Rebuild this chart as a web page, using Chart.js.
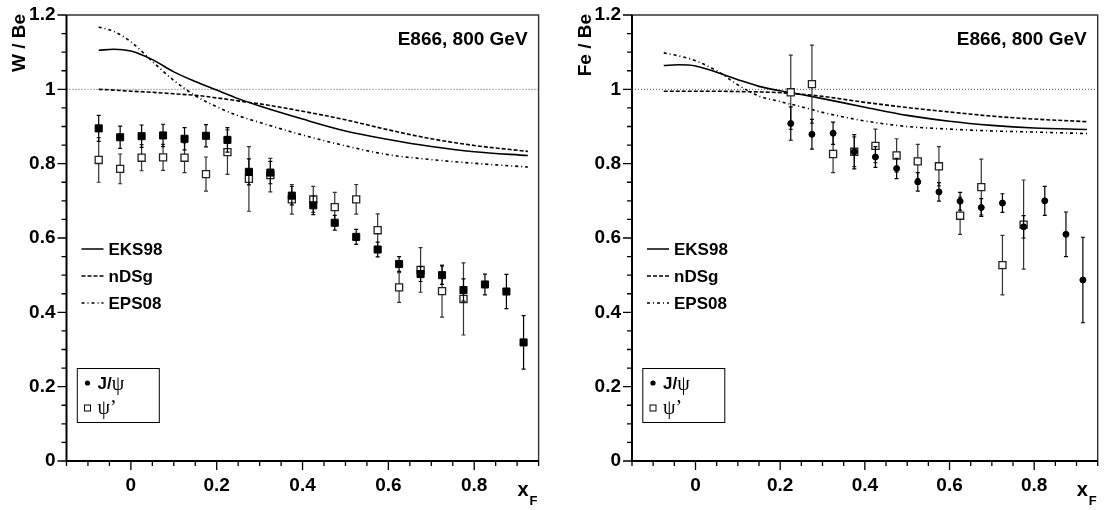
<!DOCTYPE html>
<html>
<head>
<meta charset="utf-8">
<script src="https://cdn.jsdelivr.net/npm/chart.js@4.4.1/dist/chart.umd.min.js"></script>
<style>
  html, body { margin: 0; padding: 0; background: #fff; }
  #wrap { position: relative; width: 1104px; height: 510px; }
  .panel { position: absolute; top: 0; width: 552px; height: 510px; }
</style>
</head>
<body>
<div id="wrap">
  <div class="panel" style="left:0"><canvas id="cW"></canvas></div>
  <div class="panel" style="left:552px"><canvas id="cFe"></canvas></div>
</div>
<script>
// xF bin centres
const xBins = [-0.075, -0.025, 0.025, 0.075, 0.125, 0.175, 0.225, 0.275, 0.325, 0.375, 0.425,
               0.475, 0.525, 0.575, 0.625, 0.675, 0.725, 0.775, 0.825, 0.875, 0.915];

// W / Be
const wJpsi    = [0.895, 0.871, 0.874, 0.876, 0.867, 0.875, 0.864, 0.778, 0.776, 0.714, 0.688,
                  0.641, 0.603, 0.569, 0.530, 0.503, 0.500, 0.460, 0.475, 0.456, 0.319];
const wJpsiErr = [0.035, 0.030, 0.030, 0.030, 0.030, 0.030, 0.033, 0.035, 0.030, 0.025, 0.025,
                  0.020, 0.020, 0.020, 0.020, 0.020, 0.025, 0.030, 0.028, 0.046, 0.072];
const wPsip    = [0.810, 0.786, 0.816, 0.817, 0.816, 0.772, 0.831, 0.759, 0.769, 0.704, 0.704,
                  0.683, 0.704, 0.621, 0.467, 0.514, 0.457, 0.436];
const wPsipErr = [0.060, 0.040, 0.035, 0.035, 0.040, 0.046, 0.060, 0.087, 0.045, 0.040, 0.035,
                  0.040, 0.040, 0.044, 0.040, 0.060, 0.070, 0.097];

// Fe / Be (starts at xF = 0.225)
const feJpsi    = [0.908, 0.879, 0.882, 0.832, 0.818, 0.787, 0.751, 0.724, 0.699, 0.682, 0.694,
                   0.630, 0.700, 0.610, 0.487];
const feJpsiErr = [0.045, 0.040, 0.030, 0.046, 0.028, 0.027, 0.025, 0.025, 0.024, 0.024, 0.025,
                   0.030, 0.039, 0.060, 0.115];
const fePsip    = [0.992, 1.014, 0.826, 0.832, 0.848, 0.822, 0.806, 0.793, 0.660, 0.737, 0.527, 0.636];
const fePsipErr = [0.100, 0.105, 0.050, 0.040, 0.045, 0.045, 0.046, 0.053, 0.050, 0.075, 0.080, 0.120];

// model curves
const xCurve   = [-0.075, -0.04, 0, 0.05, 0.1, 0.15, 0.2, 0.25, 0.3, 0.4, 0.5, 0.6, 0.7, 0.8, 0.925];
const wEKS98   = [1.105, 1.108, 1.103, 1.080, 1.047, 1.021, 0.998, 0.975, 0.955, 0.920, 0.888, 0.865, 0.846, 0.832, 0.822];
const wNDSg    = [1.000, 0.998, 0.995, 0.992, 0.988, 0.984, 0.977, 0.969, 0.961, 0.941, 0.918, 0.891, 0.867, 0.849, 0.833];
const wEPS08   = [1.168, 1.156, 1.128, 1.075, 1.024, 0.983, 0.953, 0.929, 0.911, 0.877, 0.848, 0.824, 0.811, 0.801, 0.791];
const feEKS98  = [1.064, 1.066, 1.063, 1.046, 1.026, 1.008, 0.996, 0.986, 0.975, 0.952, 0.930, 0.914, 0.903, 0.896, 0.892];
const feNDSg   = [0.995, 0.995, 0.995, 0.995, 0.994, 0.993, 0.991, 0.987, 0.981, 0.965, 0.951, 0.939, 0.928, 0.920, 0.913];
const feEPS08  = [1.098, 1.090, 1.077, 1.050, 1.012, 0.982, 0.967, 0.953, 0.938, 0.915, 0.900, 0.893, 0.888, 0.885, 0.881];

const xRange = [-0.15, 0.95];
const yRange = [0, 1.2];

const FONT = "'Liberation Sans', Arial, sans-serif";
const SERIF = "'Liberation Serif', 'Times New Roman', serif";

const pts = (xs, ys) => ys.map((y, i) => ({ x: xs[i], y }));
const isMajor = v => Math.abs(v / 0.2 - Math.round(v / 0.2)) < 1e-6;

// error bars, drawn just before each dataset's points
const errorBars = {
  id: 'errorBars',
  beforeDatasetDraw(chart, args) {
    const ds = chart.data.datasets[args.index];
    if (!ds.errors) return;
    const { ctx, scales: { x, y } } = chart;
    ctx.save();
    ctx.strokeStyle = ds.errColor;
    ctx.lineWidth = 1.2;
    ds.data.forEach((p, i) => {
      const px = x.getPixelForValue(p.x);
      const y1 = y.getPixelForValue(p.y + ds.errors[i]);
      const y2 = y.getPixelForValue(p.y - ds.errors[i]);
      ctx.beginPath();
      ctx.moveTo(px, y1); ctx.lineTo(px, y2);
      ctx.moveTo(px - 2, y1); ctx.lineTo(px + 2, y1);
      ctx.moveTo(px - 2, y2); ctx.lineTo(px + 2, y2);
      ctx.stroke();
    });
    ctx.restore();
  }
};

// frame, tick marks, titles and legends
const decor = {
  id: 'decor',
  afterDraw(chart) {
    const { ctx, chartArea: a, scales: { x, y } } = chart;
    const o = chart.options.plugins.decor;
    ctx.save();
    // frame
    ctx.strokeStyle = '#333';
    ctx.lineWidth = 1.4;
    ctx.beginPath();
    ctx.moveTo(a.left, a.top); ctx.lineTo(a.right, a.top); ctx.lineTo(a.right, a.bottom);
    ctx.stroke();
    ctx.strokeStyle = '#000';
    ctx.lineWidth = 2;
    ctx.beginPath();
    ctx.moveTo(a.left, a.top); ctx.lineTo(a.left, a.bottom); ctx.lineTo(a.right, a.bottom);
    ctx.stroke();
    // ticks
    ctx.lineWidth = 1.3;
    ctx.beginPath();
    x.ticks.forEach(t => {
      const px = x.getPixelForValue(t.value);
      ctx.moveTo(px, a.bottom); ctx.lineTo(px, a.bottom + (isMajor(t.value) ? 9 : 5));
    });
    y.ticks.forEach(t => {
      const py = y.getPixelForValue(t.value);
      ctx.moveTo(a.left, py); ctx.lineTo(a.left - (isMajor(t.value) ? 9 : 5), py);
    });
    ctx.stroke();

    ctx.fillStyle = '#000';
    // y title
    ctx.save();
    ctx.translate(a.left - 41.5, a.top - 1);
    ctx.rotate(-Math.PI / 2);
    ctx.font = 'bold 19px ' + FONT;
    ctx.textAlign = 'right';
    ctx.textBaseline = 'alphabetic';
    ctx.fillText(o.yTitle, 0, 0);
    ctx.restore();
    // x title
    ctx.font = 'bold 20px ' + FONT;
    ctx.textAlign = 'left';
    ctx.fillText('x', a.right - 21, 496);
    ctx.font = 'bold 13px ' + FONT;
    ctx.fillText('F', a.right - 9, 505);
    // label
    ctx.font = 'bold 19px ' + FONT;
    ctx.textAlign = 'right';
    ctx.textBaseline = 'middle';
    ctx.fillText('E866, 800 GeV', a.right - 11, 40);

    // model legend
    const L = a.left;
    const models = [['EKS98', []], ['nDSg', [4, 2]], ['EPS08', [3, 3, 1, 3]]];
    ctx.font = 'bold 17px ' + FONT;
    ctx.textAlign = 'left';
    models.forEach(([name, dash], i) => {
      const yy = 249 + i * 27;
      ctx.setLineDash(dash);
      ctx.lineWidth = 1.5;
      ctx.beginPath();
      ctx.moveTo(L + 15, yy); ctx.lineTo(L + 37, yy);
      ctx.stroke();
      ctx.setLineDash([]);
      ctx.fillText(name, L + 42, yy + 1);
    });

    // marker legend box
    ctx.lineWidth = 1;
    ctx.strokeStyle = '#000';
    ctx.strokeRect(L + 10.8, 368.5, 82, 54);
    ctx.beginPath();
    ctx.arc(L + 21, 383, 2.6, 0, Math.PI * 2);
    ctx.fill();
    ctx.font = 'bold 17px ' + FONT;
    ctx.fillText('J/', L + 31, 384);
    const jw = ctx.measureText('J/').width;
    ctx.font = '20px ' + SERIF;
    ctx.fillText('ψ', L + 31 + jw, 385);
    ctx.lineWidth = 1;
    ctx.strokeRect(L + 18, 405, 6, 6);
    ctx.fillText('ψ’', L + 31, 409);
    ctx.restore();
  }
};

function makeChart(id, cfg) {
  const datasets = [
    { label: 'J/psi', data: pts(cfg.jx, cfg.jy), errors: cfg.je, errColor: '#000',
      pointStyle: cfg.jStyle, pointRadius: cfg.jRadius, backgroundColor: '#000', borderColor: '#000',
      borderWidth: 1, showLine: false },
    { label: "psi'", data: pts(cfg.px, cfg.py), errors: cfg.pe, errColor: '#333',
      pointStyle: 'rect', pointRadius: 5, backgroundColor: '#fff', borderColor: '#222',
      borderWidth: 1.3, showLine: false },
    { label: 'EKS98', data: pts(xCurve, cfg.eks), showLine: true, pointRadius: 0,
      borderColor: '#000', borderWidth: 1.6, cubicInterpolationMode: 'monotone' },
    { label: 'nDSg', data: pts(xCurve, cfg.nds), showLine: true, pointRadius: 0,
      borderColor: '#000', borderWidth: 1.6, borderDash: [4, 2], cubicInterpolationMode: 'monotone' },
    { label: 'EPS08', data: pts(xCurve, cfg.eps), showLine: true, pointRadius: 0,
      borderColor: '#000', borderWidth: 1.6, borderDash: [3, 3, 1, 3], cubicInterpolationMode: 'monotone' },
    { label: 'unity', data: pts(xRange, [1, 1]), showLine: true, pointRadius: 0,
      borderColor: '#555', borderWidth: 1, borderDash: [1, 2] }
  ];
  const tickFont = { family: FONT, size: 19, weight: 'bold' };
  return new Chart(document.getElementById(id), {
    type: 'scatter',
    data: { datasets },
    options: {
      responsive: true,
      maintainAspectRatio: false,
      animation: false,
      layout: { padding: { left: 0, top: 15, right: cfg.padRight, bottom: 0 } },
      plugins: {
        legend: { display: false },
        tooltip: { enabled: false },
        decor: { yTitle: cfg.yTitle }
      },
      scales: {
        x: {
          type: 'linear', min: xRange[0], max: xRange[1],
          afterFit: s => { s.height = 49; },
          border: { display: false },
          grid: { drawOnChartArea: false, tickLength: 9, tickColor: 'rgba(0,0,0,0)' },
          ticks: { stepSize: 0.05, autoSkip: false, maxRotation: 0, padding: 4, color: '#000', font: tickFont,
                   callback: v => isMajor(v) ? String(Math.round(v * 10) / 10) : '' }
        },
        y: {
          type: 'linear', min: yRange[0], max: yRange[1],
          afterFit: s => { s.width = cfg.yWidth; },
          border: { display: false },
          grid: { drawOnChartArea: false, tickLength: 9, tickColor: 'rgba(0,0,0,0)' },
          ticks: { stepSize: 0.05, autoSkip: false, padding: 2, color: '#000', font: tickFont,
                   callback: v => isMajor(v) ? String(Math.round(v * 10) / 10) : '' }
        }
      }
    },
    plugins: [errorBars, decor]
  });
}

makeChart('cW', {
  yTitle: 'W / Be', yWidth: 66.5, padRight: 13.4,
  jx: xBins, jy: wJpsi, je: wJpsiErr, jStyle: 'rect', jRadius: 5,
  px: xBins.slice(0, 18), py: wPsip, pe: wPsipErr,
  eks: wEKS98, nds: wNDSg, eps: wEPS08
});

makeChart('cFe', {
  yTitle: 'Fe / Be', yWidth: 80, padRight: 1,
  jx: xBins.slice(6), jy: feJpsi, je: feJpsiErr, jStyle: 'circle', jRadius: 3,
  px: xBins.slice(6, 18), py: fePsip, pe: fePsipErr,
  eks: feEKS98, nds: feNDSg, eps: feEPS08
});
</script>
</body>
</html>
